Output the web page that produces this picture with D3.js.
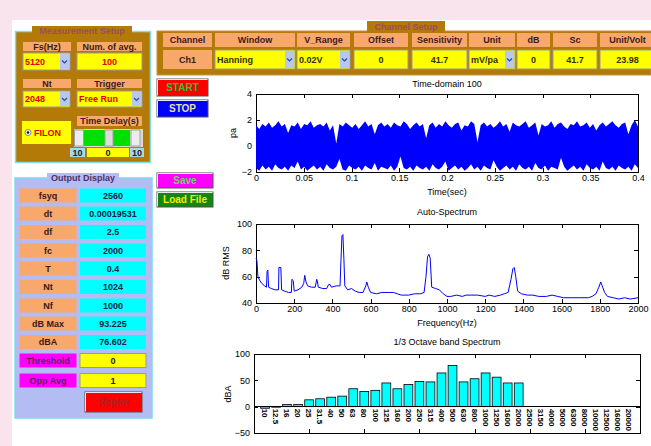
<!DOCTYPE html>
<html>
<head>
<meta charset=utf-8>
<title>Sound Analyzer</title>
<style>
  body{margin:0;background:#fff;}
  text{font-family:"Liberation Sans",Arial,sans-serif;}
  .gui text{font-weight:bold;font-size:9px;}
  .ax text{font-size:9px;fill:#000;}
  .ax path,.ax line{stroke:#000;shape-rendering:crispEdges;}
</style>
</head>
<body>
<script src="https://d3js.org/d3.v7.min.js"></script>
<script>
var W = 651, H = 446;

// ---- panel contents
var measLabels = ["Fs(Hz)", "Num. of avg.", "Nt", "Trigger", "Time Delay(s)"];
var measValues = ["5120", "100", "2048", "Free Run", "FILON"];
var delayRange = ["10", "0", "10"];

var chanHeaders = ["Channel", "Window", "V_Range", "Offset", "Sensitivity", "Unit", "dB", "Sc", "Unit/Volt"];
var chanValues = ["Ch1", "Hanning", "0.02V", "0", "41.7", "mV/pa", "0", "41.7", "23.98"];

var outLabels = ["fsyq", "dt", "df", "fc", "T", "Nt", "Nf", "dB Max", "dBA", "Threshold", "Opp Avg"];
var outValues = ["2560", "0.00019531", "2.5", "2000", "0.4", "1024", "1000", "93.225", "76.602", "0", "1"];

var buttons = ["START", "STOP", "Save", "Load File", "Replot"];

// ---- time domain (envelope of the 0.4 s record, pa)
var timeTicks = [0, 0.05, 0.1, 0.15, 0.2, 0.25, 0.3, 0.35, 0.4];
var timeYTicks = [-2, 0, 2, 4];
var sigUpper = [1.6,1.3,1.7,1.5,1.8,1.4,1.6,1.9,1.5,1.7,
  1.0,1.6,1.5,1.8,1.3,1.7,1.6,1.9,1.4,1.6,
  1.7,1.5,1.8,1.2,1.6,0.2,1.7,1.5,1.8,1.6,
  1.4,1.7,1.3,1.6,1.9,1.5,1.7,0.9,1.6,1.8,
  1.5,1.7,1.4,1.8,1.6,1.5,1.9,1.7,1.3,1.6,
  1.8,1.5,1.7,0.6,1.6,1.8,1.4,1.7,1.5,1.9,
  1.6,1.4,1.7,1.8,1.2,1.6,1.5,1.9,1.7,0.3,
  1.6,1.8,1.5,1.7,1.4,1.6,1.9,1.5,1.7,1.1,
  1.8,1.6,1.5,1.7,1.9,1.4,1.6,1.8,0.8,1.7,
  1.5,1.6,1.9,1.4,1.7,1.8,1.5,1.3,1.7,1.6,
  1.9,1.5,1.6,1.8,1.4,1.7,1.2,1.6,1.8,1.5,
  1.7,1.9,1.6,1.4,1.7,1.8,0.9,1.6,2.0,1.5];
var sigLower = [-1.7,-1.9,-1.5,-1.8,-1.6,-1.9,-1.4,-1.7,-1.8,-1.6,
  -1.9,-1.5,-1.7,-1.2,-1.8,-1.6,-1.9,-1.7,-1.5,-1.8,
  -1.6,-1.9,-1.4,-1.7,-1.8,-1.6,-1.0,-1.8,-1.9,-1.5,
  -1.7,-1.8,-1.6,-1.9,-1.5,-1.7,-1.8,-1.3,-1.9,-1.6,
  -1.7,-1.8,-1.5,-1.9,-1.6,-0.8,-1.7,-1.8,-1.6,-1.9,
  -1.5,-1.7,-1.8,-1.6,-1.9,-1.4,-1.7,-1.8,-1.6,-1.2,
  -1.9,-1.7,-1.5,-1.8,-1.6,-1.9,-1.7,-1.4,-1.8,-1.6,
  -1.9,-1.5,-1.7,-1.8,-1.1,-1.6,-1.9,-1.7,-1.5,-1.8,
  -1.6,-1.9,-1.4,-1.7,-1.8,-1.6,-1.9,-1.3,-1.7,-1.8,
  -1.5,-1.9,-1.6,-1.7,-1.8,-0.9,-1.6,-1.9,-1.7,-1.5,
  -1.8,-1.6,-1.9,-1.4,-1.7,-1.8,-1.6,-1.9,-1.2,-1.7,
  -1.8,-1.6,-1.9,-1.5,-1.7,-1.8,-1.6,-1.9,-1.4,-1.7];

// ---- auto spectrum (Hz, dB RMS)
var specTicks = [0, 200, 400, 600, 800, 1000, 1200, 1400, 1600, 1800, 2000];
var specYTicks = [40, 60, 80, 100];
var specFreq = [0,5,10,20,30,45,55,58,62,66,80,100,118,120,130,134,150,170,185,188,195,200,220,240,250,255,262,270,290,310,318,322,326,350,370,380,388,395,420,440,445,450,455,460,465,480,500,520,540,560,575,580,588,600,630,660,700,720,740,760,780,800,830,860,880,890,898,905,912,920,940,960,980,1000,1020,1050,1080,1100,1130,1160,1200,1220,1250,1280,1300,1320,1335,1345,1352,1360,1370,1390,1420,1450,1480,1520,1550,1580,1610,1650,1700,1740,1760,1780,1795,1805,1815,1825,1840,1870,1900,1930,1960,2000];
var specDb = [74,72,60,57,55,53,52,64,65,52,51,50,50,67,67,50,49,48,48,58,57,49,50,52,55,61,56,53,52,52,58,56,52,51,51,54,54,52,53,53,73,91,92,74,53,50,51,49,48,48,53,56,52,48,47,48,48,48,47,46,46,46,47,47,48,60,75,77,74,52,51,50,47,45,45,46,45,46,46,46,45,46,45,46,47,48,58,66,67,60,49,47,46,46,45,45,46,45,44,44,44,44,45,47,52,56,52,48,45,44,43,44,43,44];

// ---- 1/3 octave band (dBA)
var bandLabels = ["10","12.5","16","20","25","31.5","40","50","63","80","100","125","160","200","250","315","400","500","630","800","1000","1250","1600","2000","2500","3150","4000","5000","6300","8000","10000","12500","16000","20000"];
var bandDba = [-3,-1,4,4,13,15,18,20,34,29,31,45,34,42,48,47,64,78,47,53,64,56,45,45,null,null,null,null,null,null,null,null,null,null];
var bandYTicks = [-50, 0, 50, 100];

var svg = d3.select("body").append("svg").attr("width", W).attr("height", H);
svg.append("rect").attr("width", W).attr("height", H).attr("fill", "#f9e4ee");
svg.append("rect").attr("x", 12).attr("y", 20).attr("width", W - 12).attr("height", H - 20).attr("fill", "#fff");

var gui = svg.append("g").attr("class", "gui");

function box(x, y, w, h, fill, stroke) {
  return gui.append("rect").attr("x", x).attr("y", y).attr("width", w).attr("height", h)
    .attr("fill", fill).attr("stroke", stroke || "none").attr("stroke-width", stroke ? 1 : 0);
}
function txt(x, y, s, color, anchor) {
  return gui.append("text").attr("x", x).attr("y", y).attr("dy", "0.35em")
    .attr("text-anchor", anchor || "middle").attr("fill", color).text(s);
}
function cell(x, y, w, h, fill, s, color, stroke) {
  box(x, y, w, h, fill, stroke);
  txt(x + w / 2, y + h / 2, s, color);
}
function popup(x, y, w, h, s, color) {
  box(x, y, w, h, "#ffff00", "#9a9a9a");
  txt(x + 2, y + h / 2, s, color, "start");
  box(x + w - 10, y + 1, 9, h - 2, "#b8c8ec");
  var cx = x + w - 5.5, cy = y + h / 2;
  gui.append("path").attr("d", "M" + (cx - 2.5) + "," + (cy - 1) + "L" + cx + "," + (cy + 1.5) + "L" + (cx + 2.5) + "," + (cy - 1))
    .attr("fill", "none").attr("stroke", "#2a48a8").attr("stroke-width", 1.2);
}
function button(x, y, w, h, fill, s, color) {
  box(x, y, w, h, fill, "#505050");
  gui.append("path").attr("d", "M" + (x + 0.5) + "," + (y + h - 0.5) + "V" + (y + 0.5) + "H" + (x + w - 0.5))
    .attr("fill", "none").attr("stroke", "#e8e8e8");
  txt(x + w / 2, y + h / 2, s, color).style("font-size", "10px");
}

var brown = "#b47a08", orange = "#f7a86a", lav = "#b4bcf4";

// Measurement setup
box(15.5, 31.5, 135, 131, brown, "#80e0e8").attr("stroke-width", 1.5);
box(32, 26, 100, 10, brown);
txt(82, 31, "Measurement Setup", "#a04868");
cell(23, 42, 48, 9, orange, measLabels[0], "#3a1a1a");
cell(77, 42, 65, 9, orange, measLabels[1], "#3a1a1a");
popup(23, 53, 47, 17, measValues[0], "#e00000");
cell(77, 53, 65, 17, "#ffff00", measValues[1], "#e00000", "#9a9a9a");
cell(23, 79, 48, 9, orange, measLabels[2], "#3a1a1a");
cell(77, 79, 65, 9, orange, measLabels[3], "#3a1a1a");
popup(23, 91, 47, 16, measValues[2], "#e00000");
popup(77, 91, 65, 16, measValues[3], "#e00000");
box(22, 121, 49, 23, "#ffff00");
gui.append("circle").attr("cx", 28).attr("cy", 132.5).attr("r", 3).attr("fill", "#fff").attr("stroke", "#808080");
gui.append("circle").attr("cx", 28).attr("cy", 132.5).attr("r", 1.2).attr("fill", "#000");
txt(34, 132.5, measValues[4], "#e00000", "start");
cell(77, 116, 65, 10, orange, measLabels[4], "#3a1a1a");
box(74, 129, 69, 18, "#d8d8d8");
box(84, 130, 46, 16, "#00e000");
box(105, 130, 8, 16, "#dcdcdc", "#a0a0a0");
box(74.5, 130, 9, 16, "#ececec", "#a0a0a0");
box(131, 130, 9, 16, "#ececec", "#a0a0a0");
cell(70, 148, 15, 9, "#a8d8e8", delayRange[0], "#202020");
cell(87, 148, 42, 9, "#ffff00", delayRange[1], "#202020");
cell(130, 148, 14, 9, "#a8d8e8", delayRange[2], "#202020");

// Channel setup
box(157, 31, 494, 44, brown, "#c89040");
box(367, 21, 78, 11, brown);
txt(406, 27, "Channel Setup", "#a04868");
var colX = [163, 215, 297, 354, 412, 469, 517, 553, 600],
    colW = [49, 80, 53, 54, 55, 46, 33, 44, 55];
chanHeaders.forEach(function(h, i) {
  cell(colX[i], 33, colW[i], 14, orange, h, "#3a1a1a");
  var v = chanValues[i];
  if (i === 0) cell(colX[i], 50, colW[i], 19, orange, v, "#3a1a1a");
  else if (i === 1 || i === 2 || i === 5) popup(colX[i], 50, colW[i], 19, v, "#303000");
  else cell(colX[i], 50, colW[i], 19, "#ffff00", v, "#303000", "#9a9a9a");
});

// buttons
button(157, 79, 51, 17, "#ff0000", buttons[0], "#30c030");
button(157, 100, 51, 17, "#0000ff", buttons[1], "#e0e0a0");
button(157, 173, 56, 15, "#ff00ff", buttons[2], "#70d070");
button(157, 192, 56, 15, "#118811", buttons[3], "#f0f000");

// Output display
box(15, 178, 137, 240, lav, "#7fd8f0").attr("stroke-width", 1.5);
box(47, 173, 72, 10, lav);
txt(83, 178, "Output Display", "#503060");
var rowY = [188.5, 206.5, 225, 243.5, 261.5, 280, 298.5, 316.5, 335, 353.5, 373.5];
outLabels.forEach(function(l, i) {
  var h = i < 9 ? 14 : 14;
  if (i < 9) {
    cell(19.5, rowY[i], 57, h, orange, l, "#3a1a1a");
    cell(80, rowY[i], 66, h, "#00ffff", outValues[i], "#202040");
  } else {
    cell(19.5, rowY[i], 57, h, "#ff00ff", l, "#602060");
    cell(80, rowY[i], 66, h, "#ffff00", outValues[i], "#202020", "#9a9a9a");
  }
});
button(85, 392, 57, 20, "#ff0000", buttons[4], "#b02020");

// ---- axes helper (MATLAB style box with inward ticks)
function frame(x, y, xTicks, yTicks, xFmt) {
  var g = svg.append("g").attr("class", "ax");
  var r = x.range(), b = y.range();
  g.append("rect").attr("x", r[0]).attr("y", b[1]).attr("width", r[1] - r[0]).attr("height", b[0] - b[1])
    .attr("fill", "#fff").attr("stroke", "#000").attr("shape-rendering", "crispEdges");
  g.append("g").attr("transform", "translate(0," + b[0] + ")")
    .call(d3.axisBottom(x).tickValues(xTicks).tickSize(-4).tickSizeOuter(0).tickPadding(3).tickFormat(xFmt));
  g.append("g").attr("transform", "translate(0," + b[1] + ")")
    .call(d3.axisTop(x).tickValues(xTicks).tickSize(-4).tickSizeOuter(0).tickFormat(""));
  g.append("g").attr("transform", "translate(" + r[0] + ",0)")
    .call(d3.axisLeft(y).tickValues(yTicks).tickSize(-4).tickSizeOuter(0).tickPadding(4).tickFormat(d3.format("d")));
  g.append("g").attr("transform", "translate(" + r[1] + ",0)")
    .call(d3.axisRight(y).tickValues(yTicks).tickSize(-4).tickSizeOuter(0).tickFormat(""));
  g.selectAll(".domain").remove();
  return g;
}
function axText(x, y, s, rot) {
  var t = svg.append("text").attr("font-size", "9px").attr("text-anchor", "middle").text(s);
  if (rot) t.attr("transform", "translate(" + x + "," + y + ") rotate(-90)");
  else t.attr("x", x).attr("y", y);
  return t;
}

// time domain
var xt = d3.scaleLinear().domain([0, 0.4]).range([256, 638]);
var yt = d3.scaleLinear().domain([-2, 4]).range([172, 94]);
var g1 = frame(xt, yt, timeTicks, timeYTicks, d3.format("~g"));
var n = sigUpper.length;
var sig = sigUpper.map(function(u, i) { return {t: 0.4 * i / (n - 1), u: u, l: sigLower[i]}; });
svg.append("path").datum(sig)
  .attr("fill", "#0000ff")
  .attr("d", d3.area().x(function(d) { return xt(d.t); }).y0(function(d) { return yt(d.l); }).y1(function(d) { return yt(d.u); }));
axText(447, 87, "Time-domain  100");
axText(447, 195, "Time(sec)");
axText(236, 133, "pa", true);

// auto spectrum
var xs = d3.scaleLinear().domain([0, 2000]).range([256, 638]);
var ys = d3.scaleLinear().domain([40, 100]).range([303, 224]);
frame(xs, ys, specTicks, specYTicks, d3.format("d"));
svg.append("path").datum(specFreq)
  .attr("fill", "none").attr("stroke", "#0000ff").attr("stroke-width", 1)
  .attr("d", d3.line().x(function(d) { return xs(d); }).y(function(d, i) { return ys(specDb[i]); }));
axText(447, 215, "Auto-Spectrum");
axText(447, 326, "Frequency(Hz)");
axText(229, 263, "dB RMS", true);

// 1/3 octave band
var xo = d3.scaleLinear().domain([0, 35]).range([254, 640]);
var yo = d3.scaleLinear().domain([-50, 100]).range([433, 354]);
frame(xo, yo, [0, 5, 10, 15, 20, 25, 30, 35], bandYTicks, "");
svg.append("g").selectAll("rect").data(bandDba.filter(function(v) { return v !== null; }))
  .enter().append("rect")
  .attr("x", function(d, i) { return xo(i + 1 - 0.4); })
  .attr("width", xo(0.8) - xo(0))
  .attr("y", function(d) { return yo(Math.max(d, 0)); })
  .attr("height", function(d) { return Math.abs(yo(d) - yo(0)); })
  .attr("fill", "#00ffff").attr("stroke", "#000").attr("stroke-width", 0.8);
svg.append("line").attr("x1", xo(0)).attr("x2", xo(35)).attr("y1", yo(0)).attr("y2", yo(0))
  .attr("stroke", "#000").attr("shape-rendering", "crispEdges");
svg.append("g").selectAll("text").data(bandLabels).enter().append("text")
  .attr("transform", function(d, i) { return "translate(" + xo(i + 1) + "," + (yo(0) + 2) + ") rotate(90)"; })
  .attr("dy", "0.35em").attr("font-size", "8px").attr("font-weight", "bold").attr("fill", "#000")
  .text(function(d) { return d; });
axText(447, 345, "1/3 Octave band Spectrum");
axText(231, 394, "dBA", true);
</script>
</body>
</html>
